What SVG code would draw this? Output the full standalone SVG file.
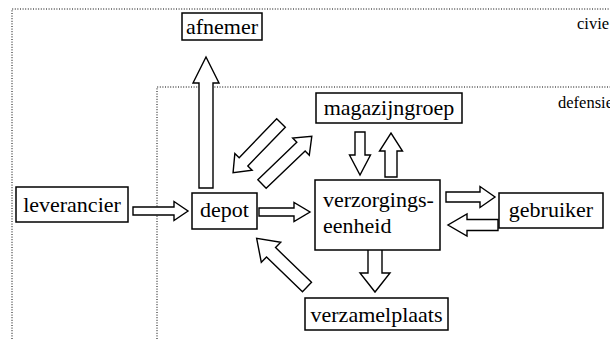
<svg xmlns="http://www.w3.org/2000/svg" width="610" height="339" viewBox="0 0 610 339">
  <!-- domain boundaries -->
  <g id="domains">
    <path d="M12,339 V9 H610" fill="none" stroke="#000" stroke-width="1" stroke-dasharray="1 1.6"/>
    <path d="M157,339 V87 H610" fill="none" stroke="#000" stroke-width="1" stroke-dasharray="1 1.6"/>
    <text x="577" y="29" font-family="Liberation Serif" font-size="16.5" fill="#000">civie</text>
    <text x="558" y="108" font-family="Liberation Serif" font-size="16.5" fill="#000">defensie</text>
  </g>

  <!-- flow arrows: white block arrows with black outline -->
  <g id="connectors" fill="#fff" stroke="#000" stroke-width="1.4">
    <!-- leverancier -> depot -->
    <polygon points="133,207 174,207 174,201.5 188,211 174,220.5 174,215 133,215"/>
    <!-- depot -> verzorgingseenheid -->
    <polygon points="259,208 294,208 294,202.5 310,212 294,221.5 294,216 259,216"/>
    <!-- verzorgingseenheid -> gebruiker -->
    <polygon points="446,192 480,192 480,186.5 495,197 480,207.5 480,202 446,202"/>
    <!-- gebruiker -> verzorgingseenheid -->
    <polygon points="498,219.5 467,219.5 467,214 448,225 467,236 467,230.5 498,230.5"/>
    <!-- magazijngroep -> verzorgingseenheid -->
    <polygon points="355,132 355,155 349.5,155 360,175 370.5,155 365,155 365,132"/>
    <!-- verzorgingseenheid -> magazijngroep -->
    <polygon points="385,177 385,151 379.5,151 391,133 402.5,151 397,151 397,177"/>
    <!-- depot -> afnemer -->
    <polygon points="199,188 199,83 193,83 206,57 219,83 213,83 213,188"/>
    <!-- verzorgingseenheid -> verzamelplaats -->
    <polygon points="368,248 368,273 360,273 375,292 390,273 382,273 382,248"/>
    <!-- magazijngroep -> depot -->
    <polygon transform="translate(281,123) rotate(134)" points="0,-6 54,-6 54,-12 69,0 54,12 54,6 0,6"/>
    <!-- depot -> magazijngroep -->
    <polygon transform="translate(262,184) rotate(-43.8)" points="0,-6 54,-6 54,-12 69,0 54,12 54,6 0,6"/>
    <!-- verzamelplaats -> depot -->
    <polygon transform="translate(307,287) rotate(-136)" points="0,-6.5 50,-6.5 50,-14 70,0 50,14 50,6.5 0,6.5"/>
  </g>

  <!-- nodes -->
  <g id="afnemer">
    <rect x="182" y="13" width="80" height="27" fill="#fff" stroke="#000" stroke-width="1.5"/>
    <text x="222" y="34" text-anchor="middle" font-family="Liberation Serif" font-size="22" fill="#000">afnemer</text>
  </g>
  <g id="magazijngroep">
    <rect x="316" y="93" width="146" height="30" fill="#fff" stroke="#000" stroke-width="1.5"/>
    <text x="389" y="115" text-anchor="middle" font-family="Liberation Serif" font-size="22" fill="#000">magazijngroep</text>
  </g>
  <g id="leverancier">
    <rect x="16" y="187" width="112" height="35" fill="#fff" stroke="#000" stroke-width="1.5"/>
    <text x="72" y="212" text-anchor="middle" font-family="Liberation Serif" font-size="22" fill="#000">leverancier</text>
  </g>
  <g id="depot">
    <rect x="192" y="193" width="65" height="36" fill="#fff" stroke="#000" stroke-width="1.5"/>
    <text x="224.5" y="217" text-anchor="middle" font-family="Liberation Serif" font-size="22" fill="#000">depot</text>
  </g>
  <g id="verzorgingseenheid">
    <rect x="315" y="180" width="125" height="70" fill="#fff" stroke="#000" stroke-width="1.5"/>
    <text x="323" y="207" font-family="Liberation Serif" font-size="22" fill="#000">verzorgings-</text>
    <text x="323" y="233" font-family="Liberation Serif" font-size="22" fill="#000">eenheid</text>
  </g>
  <g id="gebruiker">
    <rect x="499" y="193" width="104" height="35" fill="#fff" stroke="#000" stroke-width="1.5"/>
    <text x="551" y="217" text-anchor="middle" font-family="Liberation Serif" font-size="22" fill="#000">gebruiker</text>
  </g>
  <g id="verzamelplaats">
    <rect x="305" y="298" width="143" height="32" fill="#fff" stroke="#000" stroke-width="1.5"/>
    <text x="376.5" y="322" text-anchor="middle" font-family="Liberation Serif" font-size="22" fill="#000">verzamelplaats</text>
  </g>
</svg>
